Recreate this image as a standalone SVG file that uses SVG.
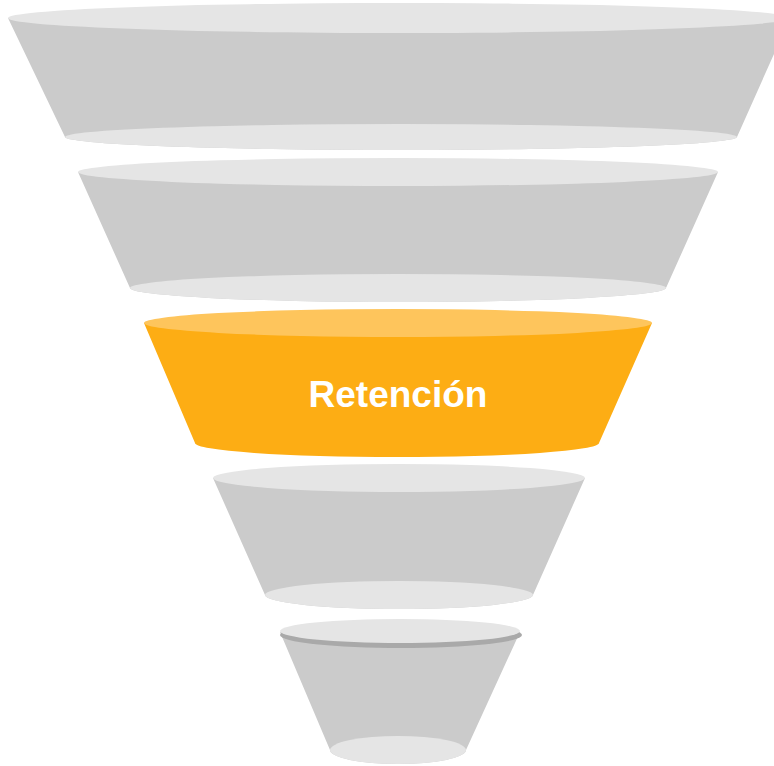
<svg xmlns="http://www.w3.org/2000/svg" width="774" height="766" viewBox="0 0 774 766">
<style>
.body{fill:#cbcbcb}
.lid{fill:#e5e5e5}
.obody{fill:#fdad14}
.olid{fill:#fec55c}
.rim{fill:#a9a9a9}
.lbl{font-family:"Liberation Sans",Arial,sans-serif;font-weight:bold;font-size:37px;fill:#ffffff;text-anchor:middle}
</style>
<rect width="774" height="766" fill="#ffffff"/>
<g id="stage1">
<path class="body" d="M 8 18 L 65 137 A 336 13 0 0 0 737 137 L 790 18 Z"/>
<ellipse class="lid" cx="399" cy="18" rx="391" ry="15"/>
<ellipse class="lid" cx="401" cy="137" rx="336" ry="13"/>
</g>
<g id="stage2">
<path class="body" d="M 78 172 L 130 288 A 268 14 0 0 0 666 288 L 718 172 Z"/>
<ellipse class="lid" cx="398" cy="172" rx="320" ry="14"/>
<ellipse class="lid" cx="398" cy="288" rx="268" ry="14"/>
</g>
<g id="stage3">
<path class="obody" d="M 144 323 L 195 443 A 202 14 0 0 0 599 443 L 652 323 Z"/>
<ellipse class="olid" cx="398" cy="323" rx="254" ry="14"/>
<text class="lbl" x="398" y="407">Retención</text>
</g>
<g id="stage4">
<path class="body" d="M 213 478 L 265 595 A 134 14 0 0 0 533 595 L 585 478 Z"/>
<ellipse class="lid" cx="399" cy="478" rx="186" ry="14"/>
<ellipse class="lid" cx="399" cy="595" rx="134" ry="14"/>
</g>
<g id="stage5">
<path class="body" d="M 280 632 L 330 750 A 68 14 0 0 0 466 750 L 520 632 Z"/>
<ellipse class="rim" cx="401" cy="635" rx="121" ry="13"/>
<ellipse class="lid" cx="400" cy="631" rx="120" ry="12"/>
<ellipse class="lid" cx="398" cy="750" rx="68" ry="14"/>
</g>
<g id="connectors"></g>
</svg>
